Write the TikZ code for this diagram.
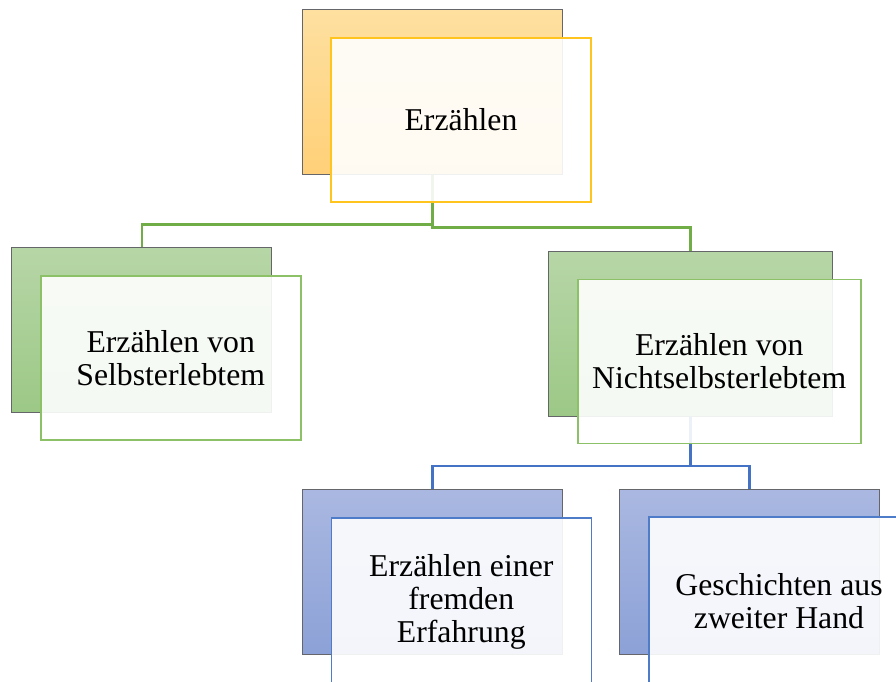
\documentclass[tikz,border=0pt]{standalone}
\usepackage{fontspec}
\setmainfont{Liberation Serif}
\definecolor{orTop}{RGB}{254,224,160}
\definecolor{orBot}{RGB}{255,208,120}
\definecolor{orLine}{RGB}{255,196,30}
\definecolor{grTop}{RGB}{183,214,167}
\definecolor{grBot}{RGB}{156,200,134}
\definecolor{grLine}{RGB}{140,193,104}
\definecolor{grConn}{RGB}{112,173,71}
\definecolor{blTop}{RGB}{170,184,225}
\definecolor{blBot}{RGB}{140,161,215}
\definecolor{blLine}{RGB}{79,124,200}
\definecolor{blConn}{RGB}{68,114,196}
\definecolor{backLine}{RGB}{100,102,106}
\begin{document}
\begin{tikzpicture}[x=1pt,y=-1pt,
  backbox/.style={draw=backLine,line width=1.2pt,rectangle,inner sep=0pt,
    minimum width=260pt,minimum height=165pt},
  frontbox/.style={rectangle,inner sep=0pt,line width=1.6pt,fill=white,fill opacity=0.9,
    text opacity=1,minimum width=260pt,minimum height=164pt,align=center,
    font=\fontsize{31.75}{32.7}\selectfont},
  orbk/.style={backbox,top color=orTop,bottom color=orBot},
  grbk/.style={backbox,top color=grTop,bottom color=grBot},
  blbk/.style={backbox,top color=blTop,bottom color=blBot},
  conn/.style={line width=2.6pt},
]
\clip (0,0) rectangle (896,681);
\fill[white] (0,0) rectangle (896,681);
% back boxes
\node[orbk] (tb) at (432.5,92) {};
\node[grbk] (lb) at (141.8,330) {};
\node[grbk,minimum width=284pt] (rb) at (690.3,334.2) {};
\node[blbk] (blb) at (432.5,572.2) {};
\node[blbk] (brb) at (749.2,572.2) {};
% connectors
\coordinate (j1) at (432.5,224.3);
\coordinate (j2) at (432.5,227.6);
\coordinate (j3) at (690.3,466);
\draw[conn,grConn] (tb.south) -- (j1) -| (lb.north);
\draw[conn,grConn] (tb.south) -- (j2) -| (rb.north);
\draw[conn,blConn] (rb.south) -- (j3) -| (blb.north);
\draw[conn,blConn] (rb.south) -- (j3) -| (brb.north);
% front boxes
\node[frontbox,draw=orLine] (tf) at (461,119.7) {Erzählen};
\node[frontbox,draw=grLine] (lf) at (170.7,357.8) {Erzählen von\\Selbsterlebtem};
\node[frontbox,draw=grLine,minimum width=283pt] (rf) at (719.2,361.3) {Erzählen von\\Nichtselbsterlebtem};
\node[frontbox,draw=blLine,minimum height=168pt] (blf) at (461.3,601.7) {Erzählen einer\\fremden\\Erfahrung};
\node[frontbox,draw=blLine,minimum height=168pt] (brf) at (779,601.2) {Geschichten aus\\zweiter Hand};
\end{tikzpicture}
\end{document}
